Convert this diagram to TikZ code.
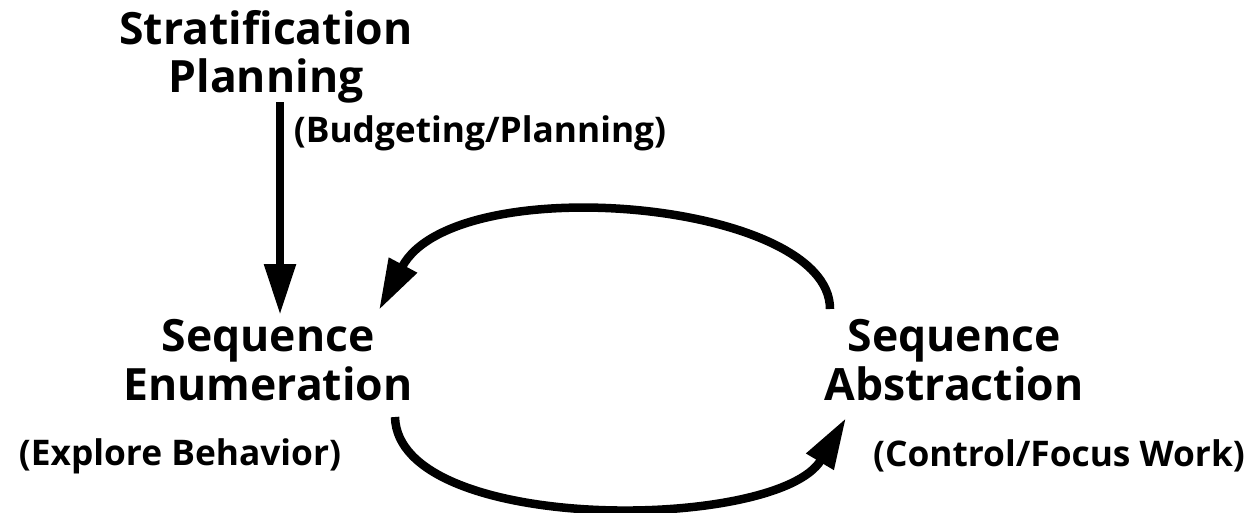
\documentclass[tikz,border=0pt]{standalone}
\usepackage{fontspec}
\setmainfont{Open Sans}[Ligatures={NoCommon}]
\usetikzlibrary{arrows.meta}

\tikzset{
  heading/.style={align=center, inner sep=0pt, font=\bfseries\fontsize{44.5}{48.5}\selectfont},
  note/.style={inner sep=0pt, font=\bfseries\fontsize{35.3}{40}\selectfont},
  flow/.style={line width=8.5pt, -{Triangle[length=51pt, width=30pt]}}
}

\begin{document}
\begin{tikzpicture}[line cap=butt, line join=miter, x=1pt, y=-1pt]
                \useasboundingbox (0, 0) rectangle (1253, 512);

                % Labels
                \node[heading] (strat) at (266, 57) {Stratification\\Planning};
                \node[note] (budget) at (480, 133) {(Budgeting/Planning)};
                \node[heading] (enum) at (268, 360) {Sequence\\Enumeration};
                \node[note] (explore) at (180, 456) {(Explore Behavior)};
                \node[heading] (abstr) at (954, 360) {Sequence\\Abstraction};
                \node[note] (control) at (1059, 456) {(Control/Focus Work)};

                % Arrow ends
                \coordinate (s1) at (280, 102);
                \coordinate (s2) at (280, 315);
                \coordinate (u1) at (830, 309);
                \coordinate (u2) at (379, 310);
                \coordinate (l1) at (395, 417);
                \coordinate (l2) at (846, 418);

                % Planning down to enumeration
                \draw[flow] (s1) -- (s2);

                % Abstraction back to enumeration
                \draw[flow] (u1) .. controls (830, 200) and (455, 168) .. (u2);

                % Enumeration over to abstraction
                \draw[flow] (l1) .. controls (398, 535) and (778, 532) .. (l2);
            \end{tikzpicture}
\end{document}
